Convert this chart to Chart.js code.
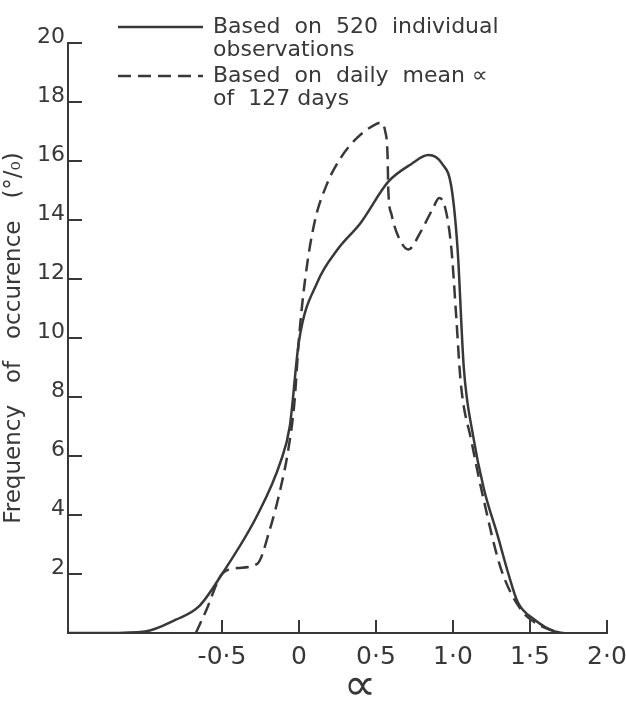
<!DOCTYPE html>
<html>
<head>
<meta charset="utf-8">
<script src="https://cdn.jsdelivr.net/npm/chart.js@4"></script>
<style>
  html, body { margin: 0; padding: 0; background: #fff; }
  #wrap { width: 626px; height: 705px; }
</style>
</head>
<body>
<div id="wrap"><canvas id="freq" width="626" height="705"></canvas></div>
<script>
// alpha values and frequency (%)
const solidAlpha = [-1.5, -1.25, -1.0, -0.8, -0.65, -0.5, -0.27, -0.12, -0.06, 0.0, 0.12, 0.25, 0.4, 0.58, 0.73, 0.84, 0.93, 0.99, 1.03, 1.07, 1.13, 1.2, 1.29, 1.36, 1.42, 1.53, 1.66, 1.72];
const solidFreq  = [0, 0, 0.05, 0.45, 0.9, 2.0, 4.0, 5.8, 7.0, 9.9, 11.9, 13.0, 13.9, 15.3, 15.9, 16.2, 15.9, 15.1, 13.0, 9.0, 6.7, 4.9, 3.3, 2.0, 1.05, 0.45, 0.05, 0];

const dashedAlpha = [-0.67, -0.6, -0.5, -0.4, -0.27, -0.19, -0.12, -0.07, -0.03, 0.0, 0.04, 0.1, 0.18, 0.27, 0.38, 0.5, 0.53, 0.56, 0.575, 0.58, 0.6, 0.64, 0.71, 0.79, 0.87, 0.91, 0.95, 0.99, 1.02, 1.05, 1.12, 1.2, 1.31, 1.44, 1.55, 1.69];
const dashedFreq  = [0, 0.8, 2.0, 2.2, 2.35, 3.5, 4.9, 6.2, 7.8, 10.0, 12.0, 13.9, 15.2, 16.1, 16.8, 17.25, 17.3, 17.0, 16.2, 15.0, 14.2, 13.5, 13.0, 13.6, 14.4, 14.75, 14.4, 13.0, 10.8, 8.5, 6.5, 4.5, 2.2, 0.8, 0.3, 0];

const xTickValues = [-0.5, 0, 0.5, 1.0, 1.5, 2.0];
const xTickLabels = ["-0·5", "0", "0·5", "1·0", "1·5", "2·0"];
const yTickValues = [2, 4, 6, 8, 10, 12, 14, 16, 18, 20];

const legendText = [
  ["Based  on  520  individual", "observations"],
  ["Based  on  daily  mean \u221D", "of  127 days"]
];

const INK = "#383838";
const FONT = '"DejaVu Sans", sans-serif';

function pts(xs, ys) {
  return xs.map((x, i) => ({ x, y: ys[i] }));
}

// ticks point into the plot, legend + alpha symbol drawn by hand
const extras = {
  id: "extras",
  afterDraw(chart) {
    const { ctx, chartArea: a, scales } = chart;
    ctx.save();
    ctx.strokeStyle = INK;
    ctx.lineWidth = 2;
    yTickValues.forEach((v) => {
      const py = scales.y.getPixelForValue(v);
      ctx.beginPath();
      ctx.moveTo(a.left, py);
      ctx.lineTo(a.left + 14, py);
      ctx.stroke();
    });
    xTickValues.forEach((v) => {
      const px = scales.x.getPixelForValue(v);
      ctx.beginPath();
      ctx.moveTo(px, a.bottom);
      ctx.lineTo(px, a.bottom - 13);
      ctx.stroke();
    });

    // legend
    ctx.fillStyle = INK;
    ctx.font = "22px " + FONT;
    ctx.textBaseline = "middle";
    ctx.textAlign = "left";
    const rows = [[27, 50], [76, 99]];
    chart.data.datasets.forEach((ds, i) => {
      ctx.setLineDash(ds.borderDash || []);
      ctx.lineWidth = ds.borderWidth;
      ctx.beginPath();
      ctx.moveTo(118, rows[i][0]);
      ctx.lineTo(203, rows[i][0]);
      ctx.stroke();
      ctx.setLineDash([]);
      legendText[i].forEach((t, j) => ctx.fillText(t, 213, rows[i][j]));
    });

    // x axis symbol
    ctx.font = "46px " + FONT;
    ctx.textAlign = "center";
    ctx.fillText("\u221D", 360, 688);
    ctx.restore();
  }
};

new Chart(document.getElementById("freq"), {
  type: "line",
  data: {
    datasets: [
      {
        label: "Based on 520 individual observations",
        data: pts(solidAlpha, solidFreq),
        borderColor: INK,
        borderWidth: 2.5,
        pointRadius: 0,
        cubicInterpolationMode: "monotone",
        fill: false
      },
      {
        label: "Based on daily mean \u221D of 127 days",
        data: pts(dashedAlpha, dashedFreq),
        borderColor: INK,
        borderWidth: 2.5,
        borderDash: [13, 7],
        pointRadius: 0,
        cubicInterpolationMode: "monotone",
        fill: false
      }
    ]
  },
  options: {
    responsive: false,
    animation: false,
    layout: { padding: { top: 43, right: 19, left: 0, bottom: 0 } },
    plugins: { legend: { display: false }, tooltip: { enabled: false } },
    scales: {
      x: {
        type: "linear",
        min: -1.5,
        max: 2.0,
        afterBuildTicks: (s) => { s.ticks = xTickValues.map((v) => ({ value: v })); },
        afterFit: (s) => { s.height = 72; s.paddingRight = 0; s.paddingLeft = 0; },
        grid: { display: false, drawTicks: false },
        border: { display: true, color: INK, width: 2 },
        ticks: {
          padding: 9,
          color: INK,
          font: { family: FONT, size: 25 },
          maxRotation: 0,
          autoSkip: false,
          callback: (v) => {
            const i = xTickValues.indexOf(v);
            return i >= 0 ? xTickLabels[i] : "";
          }
        }
      },
      y: {
        type: "linear",
        min: 0,
        max: 20,
        afterBuildTicks: (s) => { s.ticks = yTickValues.map((v) => ({ value: v })); },
        afterFit: (s) => { s.width = 68; s.paddingTop = 0; s.paddingBottom = 0; },
        grid: { display: false, drawTicks: false },
        border: { display: true, color: INK, width: 2 },
        ticks: {
          padding: 3,
          labelOffset: -6,
          color: INK,
          font: { family: FONT, size: 22 },
          autoSkip: false
        },
        title: {
          display: true,
          text: "Frequency   of   occurence   (\u00B0/\u2080)",
          color: INK,
          font: { family: FONT, size: 23 },
          padding: { top: 0, bottom: 0 }
        }
      }
    }
  },
  plugins: [extras]
});
</script>
</body>
</html>
